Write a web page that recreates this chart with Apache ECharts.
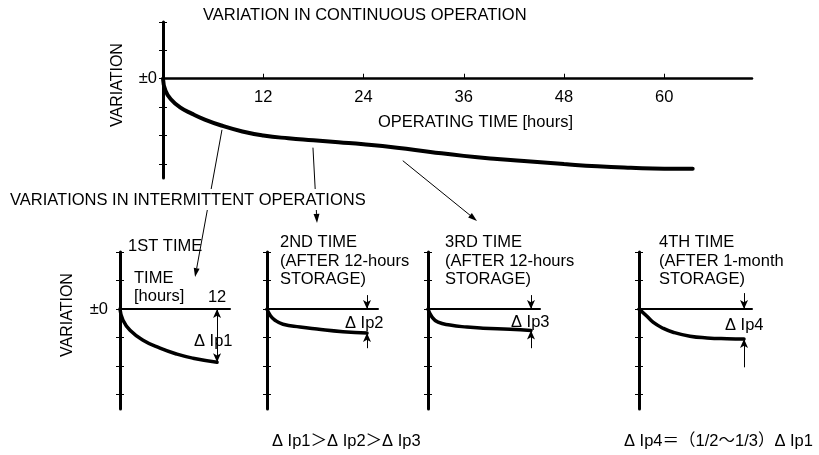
<!DOCTYPE html>
<html>
<head>
<meta charset="utf-8">
<title>Variation in continuous / intermittent operation</title>
<script src="https://cdn.jsdelivr.net/npm/echarts@6.0.0/dist/echarts.min.js"></script>
<style>
  html, body { margin: 0; padding: 0; background: #fff; }
  #chart { width: 819px; height: 455px; }
</style>
</head>
<body>
<div id="chart"></div>
<script>
// continuous operation: hours / variation (in tick units)
var contHours = [0, 0.3, 1, 2, 3.5, 5, 7, 9.5, 12, 15, 18, 21, 24, 28, 32, 36, 40, 44, 48, 52, 56, 60, 63.4];
var contVar   = [0, -0.42, -0.74, -1.0, -1.24, -1.44, -1.65, -1.86, -2.0, -2.1, -2.17, -2.24, -2.31, -2.43, -2.58, -2.72, -2.83, -2.92, -3.01, -3.09, -3.14, -3.17, -3.17];

// intermittent operations (each 12 hours)
var run1Hours = [0, 0.37, 1.24, 2.85, 4.95, 7.05, 9.03, 12];
var run1Var   = [0, -0.39, -0.74, -1.09, -1.37, -1.58, -1.72, -1.86];
var run2Hours = [0, 0.36, 0.96, 1.92, 3.96, 6.0, 9.12, 12];
var run2Var   = [0, -0.21, -0.39, -0.53, -0.63, -0.70, -0.79, -0.84];
var run3Hours = [0, 0.47, 1.17, 2.56, 4.54, 6.41, 9.55, 12];
var run3Var   = [0, -0.28, -0.46, -0.56, -0.63, -0.67, -0.71, -0.75];
var run4Hours = [0, 0.91, 1.6, 2.74, 3.89, 5.83, 7.77, 10.06, 12];
var run4Var   = [0, -0.25, -0.46, -0.67, -0.81, -0.95, -1.01, -1.04, -1.05];

var hourTicks = [12, 24, 36, 48, 60];
var varTicks = [-3, -2, -1, 0, 1, 2];
var runEnd = 12;
var yMin = -3.5, yMax = 2;

var FONT = '"Liberation Sans", Arial, "Noto Sans CJK JP", sans-serif';
var FS = 16.5;

function zip(xs, ys) {
    return xs.map(function (x, i) { return [x, ys[i]]; });
}

// one grid per panel
var panels = [
    { left: 163, top: 22, width: 589, height: 156, xMax: 70.5, xAxisW: 2.5, curveW: 4, labelMargin: 6 },
    { left: 120, top: 252, width: 110, height: 157, xMax: 13.6, xAxisW: 2, curveW: 3.5, labelMargin: 12 },
    { left: 267, top: 252, width: 111, height: 157, xMax: 13.32, xAxisW: 2, curveW: 3.5 },
    { left: 428, top: 252, width: 112, height: 157, xMax: 13.05, xAxisW: 2, curveW: 3.5 },
    { left: 639, top: 252, width: 113, height: 157, xMax: 12.91, xAxisW: 2, curveW: 3.5 }
];

var curves = [
    zip(contHours, contVar),
    zip(run1Hours, run1Var),
    zip(run2Hours, run2Var),
    zip(run3Hours, run3Var),
    zip(run4Hours, run4Var)
];

// delta arrows at the end of each run: [from, to, arrow at both ends]
var deltaMarks = [
    null,
    [[[runEnd, 0], [runEnd, run1Var[run1Var.length - 1]], true]],
    [[[runEnd, 0.49], [runEnd, 0]], [[runEnd, -1.37], [runEnd, run2Var[run2Var.length - 1]]]],
    [[[runEnd, 0.49], [runEnd, 0]], [[runEnd, -1.37], [runEnd, run3Var[run3Var.length - 1]]]],
    [[[runEnd, 0.56], [runEnd, 0]], [[runEnd, -2.04], [runEnd, run4Var[run4Var.length - 1]]]]
];

var grid = [], xAxis = [], yAxis = [], series = [];
panels.forEach(function (p, i) {
    grid.push({ left: p.left, top: p.top, width: p.width, height: p.height, outerBoundsMode: 'none' });
    // x axis sits on the zero line: move it up from the grid bottom
    xAxis.push({
        type: 'value', gridIndex: i, min: 0, max: p.xMax, position: 'bottom',
        offset: -p.height * (0 - yMin) / (yMax - yMin),
        axisLine: { onZero: false, lineStyle: { color: '#000', width: p.xAxisW } },
        axisTick: i === 0
            ? { show: true, inside: true, length: 5, customValues: hourTicks, lineStyle: { color: '#000', width: 1 } }
            : { show: false },
        axisLabel: i === 0
            ? { show: true, customValues: hourTicks, margin: 10, color: '#000', fontSize: FS, fontFamily: FONT }
            : (i === 1
                ? { show: true, inside: true, customValues: [runEnd], margin: 3, color: '#000', fontSize: FS, fontFamily: FONT }
                : { show: false }),
        splitLine: { show: false }
    });
    // main y axis: line, outer half of ticks, the ±0 label
    yAxis.push({
        type: 'value', gridIndex: i, min: yMin, max: yMax, position: 'left',
        axisLine: { show: true, onZero: false, lineStyle: { color: '#000', width: 3 } },
        axisTick: { show: true, length: 4, customValues: varTicks, lineStyle: { color: '#000', width: 1 } },
        axisLabel: {
            show: i <= 1, customValues: [0], margin: p.labelMargin || 6,
            formatter: function () { return '±0'; },
            color: '#000', fontSize: FS, fontFamily: FONT
        },
        splitLine: { show: false }
    });
    // twin y axis only for the inner half of the cross ticks
    yAxis.push({
        type: 'value', gridIndex: i, min: yMin, max: yMax, position: 'left',
        axisLine: { show: false, onZero: false },
        axisTick: { show: true, inside: true, length: 4, customValues: varTicks, lineStyle: { color: '#000', width: 1 } },
        axisLabel: { show: false },
        splitLine: { show: false }
    });

    var s = {
        type: 'line', xAxisIndex: i, yAxisIndex: 2 * i,
        data: curves[i], smooth: 0.5,
        showSymbol: false, silent: true, clip: false,
        lineStyle: { color: '#000', width: p.curveW, cap: 'round' }
    };
    if (deltaMarks[i]) {
        s.markLine = {
            silent: true, symbol: ['none', 'arrow'], symbolSize: [6, 9],
            label: { show: false },
            lineStyle: { color: '#000', width: 1, type: 'solid' },
            data: deltaMarks[i].map(function (m) {
                return [
                    { coord: m[0], symbol: m[2] ? 'arrow' : 'none' },
                    { coord: m[1] }
                ];
            })
        };
    }
    series.push(s);
});

var chart = echarts.init(document.getElementById('chart'));
chart.setOption({
    animation: false,
    backgroundColor: '#fff',
    textStyle: { fontFamily: FONT },
    grid: grid,
    xAxis: xAxis,
    yAxis: yAxis,
    series: series
});

// leader arrows from the continuous curve to each intermittent panel
var leaders = [
    { from: [0, [7.06, -1.8]], to: [1, [9.28, 1.12]] },
    { from: [0, [17.95, -2.43]], to: [2, [6.0, 3.02]] },
    { from: [0, [28.7, -2.89]], to: [3, [5.71, 3.09]] }
];

function px(ref) {
    return chart.convertToPixel({ gridIndex: ref[0] }, ref[1]);
}

function arrow(p0, p1, head) {
    var dx = p1[0] - p0[0], dy = p1[1] - p0[1];
    var len = Math.sqrt(dx * dx + dy * dy);
    var ux = dx / len, uy = dy / len;
    var bx = p1[0] - ux * head, by = p1[1] - uy * head;
    var w = head * 0.33;
    return [
        { type: 'line', z: 1, shape: { x1: p0[0], y1: p0[1], x2: bx, y2: by }, style: { stroke: '#000', lineWidth: 1 } },
        { type: 'polygon', z: 1, shape: { points: [[p1[0], p1[1]], [bx - uy * w, by + ux * w], [bx + uy * w, by - ux * w]] }, style: { fill: '#000' } }
    ];
}

function txt(s, x, y) {
    return {
        type: 'text', z: 3, x: x, y: y,
        style: { text: s, font: FS + 'px ' + FONT, fill: '#000', textAlign: 'left', textVerticalAlign: 'middle' }
    };
}

function vtxt(s, cx, cy) {
    return {
        type: 'text', z: 3, x: cx, y: cy, rotation: Math.PI / 2,
        style: { text: s, font: '16px ' + FONT, fill: '#000', textAlign: 'center', textVerticalAlign: 'middle' }
    };
}

var graphic = [];
leaders.forEach(function (l) {
    graphic = graphic.concat(arrow(px(l.from), px(l.to), 9));
});

// white strip that breaks the leader lines behind the section heading
graphic.push({ type: 'rect', z: 2, shape: { x: 8, y: 189, width: 362, height: 21 }, style: { fill: '#fff' } });

graphic.push(
    txt('VARIATION IN CONTINUOUS OPERATION', 203, 15),
    txt('OPERATING TIME [hours]', 378, 122),
    vtxt('VARIATION', 118, 85),
    txt('VARIATIONS IN INTERMITTENT OPERATIONS', 10, 200),
    vtxt('VARIATION', 68, 315),
    txt('1ST TIME', 128, 246),
    txt('TIME', 134, 278),
    txt('[hours]', 134, 296),
    txt('\u0394 Ip1', 194, 341),
    txt('2ND TIME', 280, 242),
    txt('(AFTER 12-hours', 280, 261),
    txt('STORAGE)', 280, 279),
    txt('\u0394 Ip2', 345, 323),
    txt('3RD TIME', 445, 242),
    txt('(AFTER 12-hours', 445, 261),
    txt('STORAGE)', 445, 279),
    txt('\u0394 Ip3', 511, 322),
    txt('4TH TIME', 659, 242),
    txt('(AFTER 1-month', 659, 261),
    txt('STORAGE)', 659, 279),
    txt('\u0394 Ip4', 725, 325),
    txt('\u0394 Ip1\uff1e\u0394 Ip2\uff1e\u0394 Ip3', 272, 441),
    txt('\u0394 Ip4\uff1d\uff081/2\u301c1/3\uff09\u0394 Ip1', 624, 441)
);

chart.setOption({ graphic: graphic });
</script>
</body>
</html>
